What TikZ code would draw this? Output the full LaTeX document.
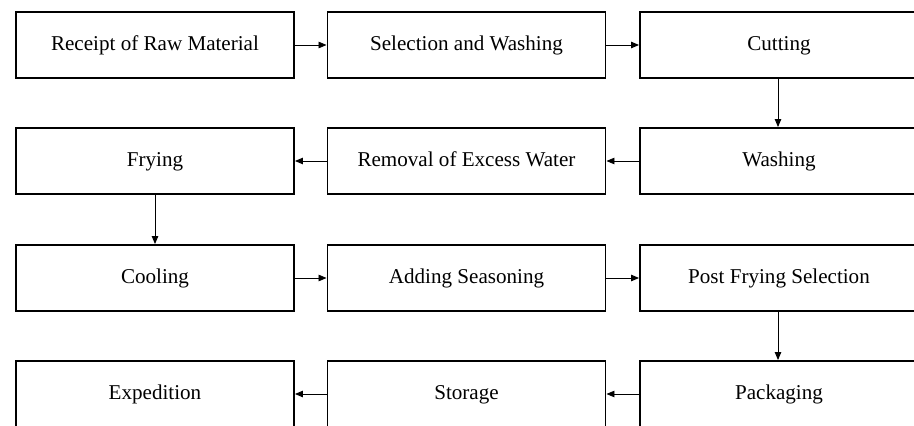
\documentclass[tikz,border=0pt]{standalone}
\usepackage{fontspec}
\setmainfont{Liberation Serif}
\usepackage{tikz}
\usetikzlibrary{arrows.meta,positioning}

\begin{document}
\begin{tikzpicture}[
step box/.style={
draw=black,
line width=1.1pt,
fill=white,
minimum width=5.56cm,
minimum height=1.32cm,
text height=8.5pt,
text depth=2.5pt,
font=\fontsize{12}{14}\selectfont
},
flow/.style={
-{Triangle[length=1.6mm,width=1.3mm]},
line width=0.5pt
}
]

\useasboundingbox (0,0) rectangle (18.28,-8.52);
\clip (0,0) rectangle (18.28,-8.52);

% row 1
\node[step box] (receipt) at (3.1,-0.9) {Receipt of Raw Material};
\node[step box] (selection) at (9.33,-0.9) {Selection and Washing};
\node[step box] (cutting) at (15.58,-0.9) {Cutting};

% row 2
\node[step box] (frying) at (3.1,-3.22) {Frying};
\node[step box] (removal) at (9.33,-3.22) {Removal of Excess Water};
\node[step box] (washing) at (15.58,-3.22) {Washing};

% row 3
\node[step box] (cooling) at (3.1,-5.56) {Cooling};
\node[step box] (seasoning) at (9.33,-5.56) {Adding Seasoning};
\node[step box] (postfrying) at (15.58,-5.56) {Post Frying Selection};

% row 4
\node[step box] (expedition) at (3.1,-7.88) {Expedition};
\node[step box] (storage) at (9.33,-7.88) {Storage};
\node[step box] (packaging) at (15.58,-7.88) {Packaging};

\draw[flow] (receipt) -- (selection);
\draw[flow] (selection) -- (cutting);
\draw[flow] (cutting.south -| 15.56,0) -- (washing.north -| 15.56,0);
\draw[flow] (washing) -- (removal);
\draw[flow] (removal) -- (frying);
\draw[flow] (frying) -- (cooling);
\draw[flow] (cooling) -- (seasoning);
\draw[flow] (seasoning) -- (postfrying);
\draw[flow] (postfrying.south -| 15.56,0) -- (packaging.north -| 15.56,0);
\draw[flow] (packaging) -- (storage);
\draw[flow] (storage) -- (expedition);

\end{tikzpicture}
\end{document}
